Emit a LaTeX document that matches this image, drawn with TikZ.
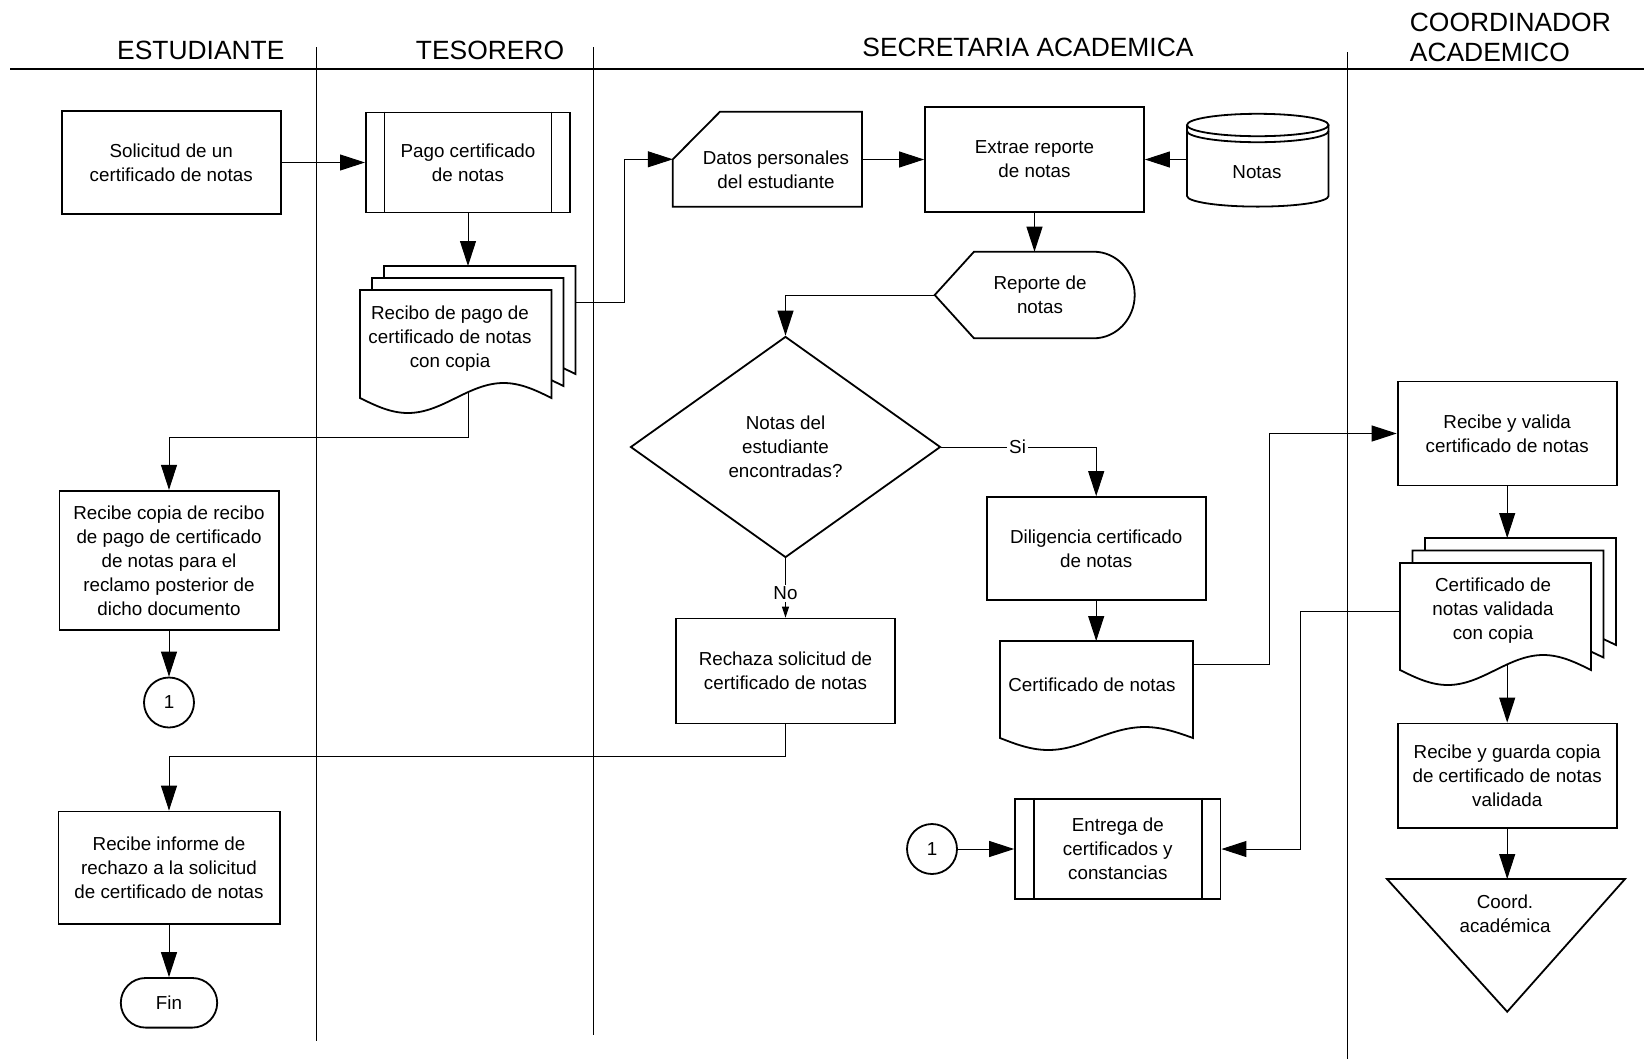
\documentclass[tikz,border=0pt]{standalone}
\usepackage{fontspec}
\setmainfont{Liberation Sans}
\usetikzlibrary{arrows.meta,shapes.geometric,calc}
\newcommand\lab{\fontsize{9.4pt}{12pt}\selectfont}
\newcommand\hdrfont{\fontsize{13.2pt}{15pt}\selectfont}
\begin{document}
\begin{tikzpicture}[x=0.5pt,y=-0.5pt,
  box/.style={draw, line width=0.9pt, inner sep=0pt, align=center, font=\lab},
  txt/.style={inner sep=0pt, align=center, font=\lab},
  shp/.style={draw, line width=0.9pt},
  conn/.style={line width=0.5pt, -{Triangle[length=12.5pt,width=8pt]}},
  sconn/.style={line width=0.5pt, -{Triangle[length=5.5pt,width=3.5pt]}},
  lane/.style={line width=0.5pt},
  hdr/.style={inner sep=0pt, font=\hdrfont, anchor=base},
  lbl/.style={fill=white, inner sep=1pt, font=\lab},
  conncirc/.style={draw, circle, line width=0.9pt, minimum size=25pt, inner sep=0pt, font=\lab}
]
\fill[white] (0,0) rectangle (1644,1061);
\useasboundingbox (0,0) rectangle (1644,1061);

% headers and lanes
\node[hdr] (hE) at (200.8,59.3) {ESTUDIANTE};
\node[hdr] (hT) at (490,59.3) {TESORERO};
\node[hdr] (hS) at (1028,56.7) {SECRETARIA ACADEMICA};
\node[hdr, anchor=base west] (hC1) at (1409.5,31.7) {COORDINADOR};
\node[hdr, anchor=base west] (hC2) at (1409.5,61) {ACADEMICO};
\draw[line width=1.2pt] (10,69) -- (1644,69);
\draw[lane] (316.6,47) -- (316.6,1041);
\draw[lane] (593.5,47) -- (593.5,1035);
\draw[lane] (1347.3,52) -- (1347.3,1059);

% ESTUDIANTE
\node[box, minimum width=109.4pt, minimum height=51.6pt] (sol) at (171.2,162.5) {Solicitud de un\\certificado de notas};
\node[box, minimum width=109.6pt, minimum height=69.65pt] (copia) at (169,560.4) {Recibe copia de recibo\\de pago de certificado\\de notas para el\\reclamo posterior de\\dicho documento};
\node[conncirc] (c1) at (169,702.5) {1};
\node[box, minimum width=110.6pt, minimum height=56.1pt] (inf) at (169,867.6) {Recibe informe de\\rechazo a la solicitud\\de certificado de notas};
\node[box, rounded corners=12.4pt, minimum width=48.2pt, minimum height=24.8pt] (fin) at (169,1002.8) {Fin};

% TESORERO
\node[box, minimum width=102.1pt, minimum height=50pt] (pago) at (468,162.5) {Pago certificado\\de notas};
\draw[line width=0.9pt] ([xshift=9.75pt]pago.north west) -- ([xshift=9.75pt]pago.south west)
  ([xshift=-9.75pt]pago.north east) -- ([xshift=-9.75pt]pago.south east);
\draw[shp] (384,278) -- (384,266) -- (575.5,266) -- (575.5,374) -- (563.5,368.2);
\draw[shp] (372,290) -- (372,278) -- (563.5,278) -- (563.5,386) -- (551.5,380.2);
\draw[shp] (360,398) -- (360,290) -- (551.5,290) -- (551.5,398) sin (503.6,383) cos (455.75,398) sin (407.9,413) cos (360,398) -- cycle;
\node[txt] (recibo) at (450,339) {Recibo de pago de\\certificado de notas\\con copia};
\coordinate (reciboTop) at (468,266);
\coordinate (reciboR) at (575.5,302);
\coordinate (reciboBot) at (468,392.2);

% SECRETARIA
\draw[shp] (672.8,159.3) -- (720,111.7) -- (862,111.7) -- (862,206.7) -- (672.8,206.7) -- cycle;
\node[txt] (datos) at (776,170) {Datos personales\\del estudiante};
\coordinate (datosIn) at (672.8,159.3);
\coordinate (datosOut) at (862,159.5);

\node[box, minimum width=109.5pt, minimum height=52.5pt] (extrae) at (1034.5,159.5) {Extrae reporte\\de notas};

\draw[shp] (1187,125) -- (1187,196) arc[start angle=180,end angle=360,x radius=35.375pt,y radius=5.3pt] -- (1328.5,125);
\draw[shp] (1257.75,125) ellipse[x radius=35.375pt, y radius=5.6pt];
\draw[shp] (1187,131) arc[start angle=180,end angle=360,x radius=35.375pt,y radius=5.6pt];
\node[txt] (notas) at (1257,172) {Notas};
\coordinate (notasL) at (1187,159.5);

\draw[shp] (934.7,295) -- (974,251.7) -- (1093.7,251.7) .. controls (1116.3,251.7) and (1134.7,271.1) .. (1134.7,295) .. controls (1134.7,318.9) and (1116.3,338.3) .. (1093.7,338.3) -- (974,338.3) -- cycle;
\node[txt] (reporte) at (1040,295) {Reporte de\\notas};
\coordinate (reporteTop) at (1034.5,251.7);
\coordinate (reporteL) at (934.7,295);

\node[draw, line width=0.9pt, diamond, minimum width=155pt, minimum height=110.5pt, inner sep=0pt, align=center, font=\lab] (dec) at (785.5,447) {Notas del\\estudiante\\encontradas?};

\node[box, minimum width=109.6pt, minimum height=51.35pt] (dilig) at (1096.2,548.4) {Diligencia certificado\\de notas};

\draw[shp] (1000,738) -- (1000,641) -- (1193,641) -- (1193,738) sin (1144.75,727) cos (1096.5,738) sin (1048.25,750) cos (1000,738) -- cycle;
\node[txt] (cert) at (1092,685) {Certificado de notas};
\coordinate (certTop) at (1096.2,641);
\coordinate (certR) at (1193,664.7);

\node[box, minimum width=109.7pt, minimum height=52.45pt] (rech) at (785.5,671) {Rechaza solicitud de\\certificado de notas};

\node[conncirc] (c2) at (932,849) {1};
\node[box, minimum width=102.75pt, minimum height=50.3pt] (entrega) at (1117.8,849) {Entrega de\\certificados y\\constancias};
\draw[line width=0.9pt] ([xshift=9.75pt]entrega.north west) -- ([xshift=9.75pt]entrega.south west)
  ([xshift=-9.75pt]entrega.north east) -- ([xshift=-9.75pt]entrega.south east);

% COORDINADOR
\node[box, minimum width=109.6pt, minimum height=51.95pt] (valida) at (1507.2,433.5) {Recibe y valida\\certificado de notas};

\draw[shp] (1425,550.5) -- (1425,538) -- (1616,538) -- (1616,645) -- (1603.5,639.1);
\draw[shp] (1412.5,563) -- (1412.5,550.5) -- (1603.5,550.5) -- (1603.5,657.5) -- (1591,651.6);
\draw[shp] (1400,670) -- (1400,563) -- (1591,563) -- (1591,670) sin (1543.25,655) cos (1495.5,670) sin (1447.75,685) cos (1400,670) -- cycle;
\node[txt] (valdoc) at (1493,611) {Certificado de\\notas validada\\con copia};
\coordinate (valTop) at (1507.2,538);
\coordinate (valL) at (1400,611);
\coordinate (valBot) at (1507.2,664.4);

\node[box, minimum width=109.6pt, minimum height=52.4pt] (guarda) at (1507.2,775.9) {Recibe y guarda copia\\de certificado de notas\\validada};

\draw[shp] (1387,879) -- (1625,879) -- (1507.2,1011.7) -- cycle;
\node[txt] (coord) at (1505,914) {Coord.\\académica};
\coordinate (triTop) at (1507.2,879);

% connectors
\draw[conn] (sol.east) -- (pago.west);
\draw[conn] (pago.south) -- (reciboTop);
\draw[conn] (reciboR) -- ++(48.5,0) |- (datosIn);
\draw[conn] (datosOut) -- (extrae.west);
\draw[conn] (notasL) -- (extrae.east);
\draw[conn] (extrae.south) -- (reporteTop);
\draw[conn] (reporteL) -| (dec.north);
\draw[conn] (dec.east) -| node[lbl, pos=0.246] {Si} (dilig.north);
\draw[sconn] (dec.south) -- node[lbl, pos=0.59] {No} (rech.north);
\draw[conn] (dilig.south) -- (certTop);
\draw[conn] (certR) -- ++(76.7,0) |- (valida.west);
\draw[conn] (reciboBot) -- ++(0,44.8) -| (copia.north);
\draw[conn] (copia.south) -- (c1.north);
\draw[conn] (rech.south) -- ++(0,32.5) -| (inf.north);
\draw[conn] (inf.south) -- (fin.north);
\draw[conn] (c2.east) -- (entrega.west);
\draw[conn] (valL) -- ++(-100,0) |- (entrega.east);
\draw[conn] (valida.south) -- (valTop);
\draw[conn] (valBot) -- (guarda.north);
\draw[conn] (guarda.south) -- (triTop);
\end{tikzpicture}
\end{document}
